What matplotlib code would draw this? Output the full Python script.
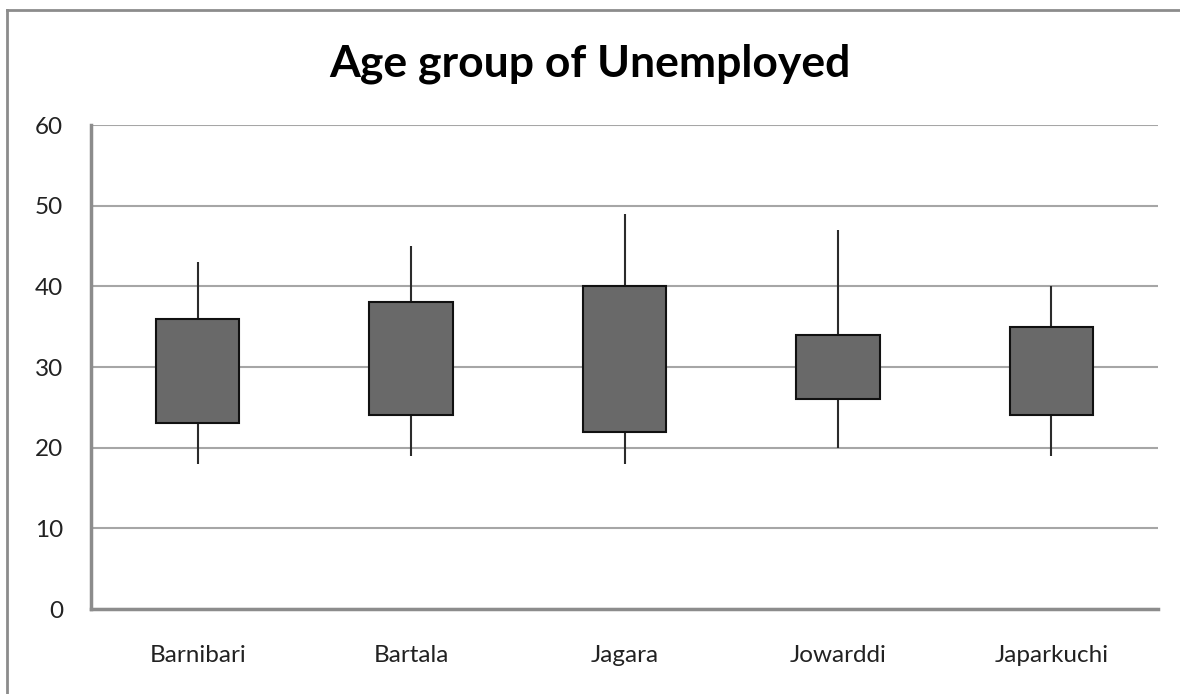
import matplotlib.pyplot as plt
from matplotlib.lines import Line2D

villages = ['Barnibari', 'Bartala', 'Jagara', 'Jowarddi', 'Japarkuchi']
low = [18, 19, 18, 20, 19]
high = [43, 45, 49, 47, 40]
box_bottom = [23, 24, 22, 26, 24]
box_top = [36, 38, 40, 34, 35]

plt.rcParams['font.family'] = ['Lato', 'DejaVu Sans']

fig = plt.figure(figsize=(11.8, 6.94), dpi=100)
ax = fig.add_axes([91/1180, 1 - 609/694, (1158 - 91)/1180, (609 - 125)/694])

# outer chart frame (only top and left edges visible)
fig.add_artist(Line2D([7/1180, 7/1180], [0, 1 - 10/694], transform=fig.transFigure,
                      color='#8c8c8c', lw=2))
fig.add_artist(Line2D([7/1180, 1], [1 - 10/694, 1 - 10/694], transform=fig.transFigure,
                      color='#8c8c8c', lw=2))

x = range(len(villages))
ax.vlines(x, low, high, color='#2b2b2b', lw=1.5, zorder=2)
heights = [t - b for t, b in zip(box_top, box_bottom)]
ax.bar(x, heights, bottom=box_bottom, width=0.39, color='#696969',
       edgecolor='#111111', linewidth=1.5, zorder=3)

ax.set_xlim(-0.5, len(villages) - 0.5)
ax.set_ylim(0, 60)
ax.set_yticks(range(0, 61, 10))
ax.set_xticks(list(x))
ax.set_xticklabels(villages, fontsize=17.5, color='#222222')
ax.tick_params(axis='y', labelsize=17.5, colors='#222222', length=0, pad=20)
ax.tick_params(axis='x', length=0, pad=26)
ax.yaxis.grid(True, color='#a6a6a6', lw=1.5)
ax.set_axisbelow(True)

for s in ['top', 'right']:
    ax.spines[s].set_visible(False)
for s in ['left', 'bottom']:
    ax.spines[s].set_color('#8c8c8c')
    ax.spines[s].set_linewidth(2.5)

fig.text(0.5, 1 - 64/694, 'Age group of Unemployed', ha='center', va='center',
         fontsize=32, fontweight='bold', color='black')

fig.savefig('out.png', dpi=100)
